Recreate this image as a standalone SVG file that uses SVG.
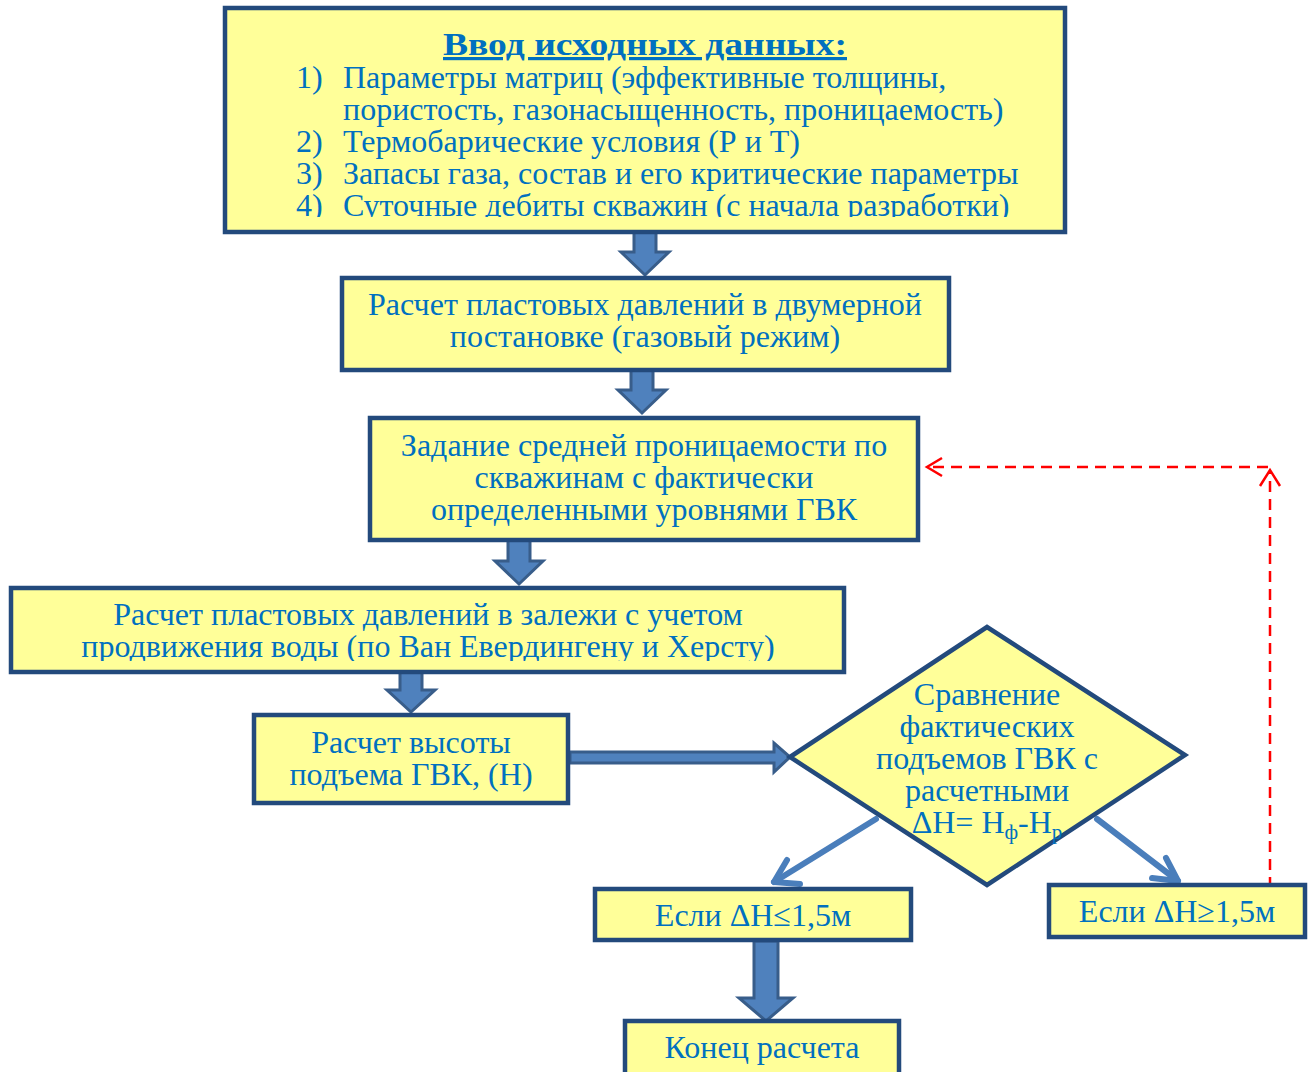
<svg xmlns="http://www.w3.org/2000/svg" width="1315" height="1072" viewBox="0 0 1315 1072">
<style>
.box{fill:#FFFF99;stroke:#234A7C;stroke-width:4.5}
.t{font-family:"Liberation Serif","Times New Roman",serif;font-size:32px;fill:#0070C0}
.c{text-anchor:middle}
.blk{fill:#4F81BD;stroke:#385D8A;stroke-width:3;stroke-linejoin:miter}
.ln{fill:none;stroke:#4A7EBB;stroke-width:6;stroke-linecap:round;stroke-linejoin:round}
.red{fill:none;stroke:#FF0000;stroke-width:2.5}
</style>
<defs>
<clipPath id="c1"><rect x="226" y="9" width="838" height="208"/></clipPath>
<clipPath id="c4"><rect x="12" y="589" width="831" height="72"/></clipPath>
</defs>
<rect width="1315" height="1072" fill="#FFFFFF"/>

<g id="connectors">
<path class="blk" d="M634,232 H656 V252 H669 L645,275 L621,252 H634 Z"/>
<path class="blk" d="M631,370 H653 V390 H666 L642,413 L618,390 H631 Z"/>
<path class="blk" d="M508,540 H530 V561 H543 L519,584 L495,561 H508 Z"/>
<path class="blk" d="M400,672 H422 V690 H435 L411,712 L387,690 H400 Z"/>
<path class="blk" d="M570,752 H774 V743 L790,757 L774,772 V763 H570 Z"/>
<path class="blk" d="M754,941 H778 V998 H793 L766,1021 L739,998 H754 Z"/>
<path class="ln" d="M876,819 L774,882"/>
<path class="ln" d="M787,860 L774,882 L800,884"/>
<path class="ln" d="M1097,819 L1178,881"/>
<path class="ln" d="M1166,858 L1178,881 L1152,878"/>
<path class="red" stroke-dasharray="11,7" d="M1270,888 V472"/>
<path class="red" stroke-dasharray="11,7" d="M1268,467 H930"/>
<path class="red" d="M1260,486 L1270,470 L1280,486"/>
<path class="red" d="M942,458 L927,467 L942,476"/>
</g>

<g id="n1">
<rect class="box" x="225" y="8" width="840" height="224"/>
<text class="t c" x="645" y="55" font-size="38" font-weight="bold" text-decoration="underline" textLength="404" lengthAdjust="spacingAndGlyphs">Ввод исходных данных:</text>
<g clip-path="url(#c1)">
<text class="t" x="296" y="88">1)</text><text class="t" x="343" y="88">Параметры матриц (эффективные толщины,</text>
<text class="t" x="343" y="120">пористость, газонасыщенность, проницаемость)</text>
<text class="t" x="296" y="152">2)</text><text class="t" x="343" y="152">Термобарические условия (Р и Т)</text>
<text class="t" x="296" y="184">3)</text><text class="t" x="343" y="184">Запасы газа, состав и его критические параметры</text>
<text class="t" x="296" y="216">4)</text><text class="t" x="343" y="216">Суточные дебиты скважин (с начала разработки)</text>
</g>
</g>

<g id="n2">
<rect class="box" x="342" y="278" width="607" height="92"/>
<text class="t c" x="645" y="315">Расчет пластовых давлений в двумерной</text>
<text class="t c" x="645" y="347">постановке (газовый режим)</text>
</g>

<g id="n3">
<rect class="box" x="370" y="418" width="548" height="122"/>
<text class="t c" x="644" y="456">Задание средней проницаемости по</text>
<text class="t c" x="644" y="488">скважинам с фактически</text>
<text class="t c" x="644" y="520">определенными уровнями ГВК</text>
</g>

<g id="n4">
<rect class="box" x="11" y="588" width="833" height="84"/>
<g clip-path="url(#c4)">
<text class="t c" x="428" y="625">Расчет пластовых давлений в залежи с учетом</text>
<text class="t c" x="428" y="657">продвижения воды (по Ван Евердингену и Херсту)</text>
</g>
</g>

<g id="n5">
<rect class="box" x="254" y="715" width="314" height="88"/>
<text class="t c" x="411" y="753">Расчет высоты</text>
<text class="t c" x="411" y="785">подъема ГВК, (Н)</text>
</g>

<g id="n6">
<path class="box" d="M790,757 L987,627 L1185,755 L987,885 Z"/>
<text class="t c" x="987" y="705">Сравнение</text>
<text class="t c" x="987" y="737">фактических</text>
<text class="t c" x="987" y="769">подъемов ГВК с</text>
<text class="t c" x="987" y="801">расчетными</text>
<text class="t c" x="987" y="833">ΔН= Н<tspan font-size="21" dy="6">ф</tspan><tspan dy="-6">-Н</tspan><tspan font-size="21" dy="6">р</tspan></text>
</g>

<g id="n7">
<rect class="box" x="595" y="889" width="316" height="51"/>
<text class="t c" x="753" y="926">Если ΔН≤1,5м</text>
</g>

<g id="n8">
<rect class="box" x="1049" y="885" width="256" height="52"/>
<text class="t c" x="1177" y="922">Если ΔН≥1,5м</text>
</g>

<g id="n9">
<rect class="box" x="625" y="1021" width="274" height="60"/>
<text class="t c" x="762" y="1058">Конец расчета</text>
</g>
</svg>
